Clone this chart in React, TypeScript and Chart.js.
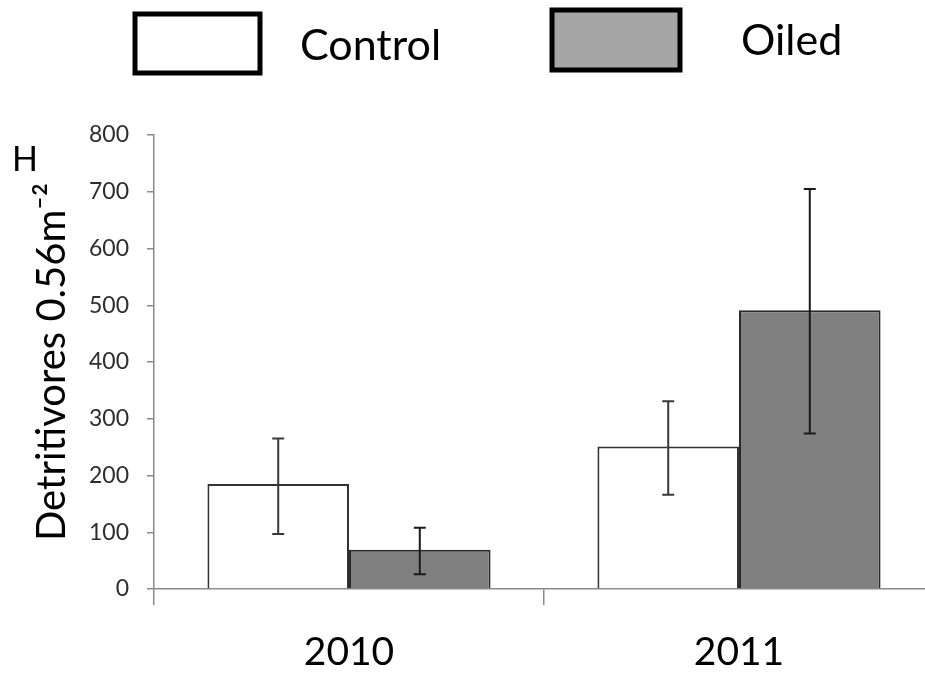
import React, { useEffect, useRef } from "react";
import { Chart, registerables } from "chart.js";

Chart.register(...registerables);

const categories = ["2010", "2011"];
const controlMeans = [185, 251];
const controlUpper = [265, 331];
const controlLower = [97, 166];
const oiledMeans = [69, 491];
const oiledUpper = [108, 705];
const oiledLower = [26, 274];
const yTicks = [0, 100, 200, 300, 400, 500, 600, 700, 800];

const FONT = "Lato, 'Open Sans', sans-serif";

const errorBarPlugin = {
  id: "errorBars",
  afterDatasetsDraw(chart: any) {
    const ctx = chart.ctx;
    const yScale = chart.scales.y;
    const sets = [
      { upper: controlUpper, lower: controlLower, color: "#3a3a3a" },
      { upper: oiledUpper, lower: oiledLower, color: "#1a1a1a" },
    ];
    sets.forEach((s, di) => {
      const meta = chart.getDatasetMeta(di);
      meta.data.forEach((bar: any, i: number) => {
        const x = bar.x;
        const yT = yScale.getPixelForValue(s.upper[i]);
        const yB = yScale.getPixelForValue(s.lower[i]);
        ctx.save();
        ctx.strokeStyle = s.color;
        ctx.lineWidth = 2;
        ctx.beginPath();
        ctx.moveTo(x, yT);
        ctx.lineTo(x, yB);
        ctx.moveTo(x - 6, yT);
        ctx.lineTo(x + 6, yT);
        ctx.moveTo(x - 6, yB);
        ctx.lineTo(x + 6, yB);
        ctx.stroke();
        ctx.restore();
      });
    });
  },
};

const legendPlugin = {
  id: "customLegend",
  afterDraw(chart: any) {
    const ctx = chart.ctx;
    ctx.save();
    ctx.lineWidth = 5;
    ctx.strokeStyle = "#000";
    ctx.fillStyle = "#ffffff";
    ctx.fillRect(135, 14, 125, 59);
    ctx.strokeRect(135, 14, 125, 59);
    ctx.fillStyle = "#a6a6a6";
    ctx.fillRect(552, 10, 128, 60);
    ctx.strokeRect(552, 10, 128, 60);
    ctx.fillStyle = "#000";
    ctx.font = `43px ${FONT}`;
    ctx.textBaseline = "middle";
    ctx.textAlign = "left";
    ctx.fillText("Control", 300, 46);
    ctx.fillText("Oiled", 741, 41);
    ctx.font = `34px ${FONT}`;
    ctx.fillText("H", 12, 160);
    ctx.restore();
  },
};

export default function App() {
  const canvasRef = useRef<HTMLCanvasElement | null>(null);

  useEffect(() => {
    document.body.style.margin = "0";
    document.body.style.overflow = "hidden";
    const canvas = canvasRef.current;
    if (!canvas) return;
    const chart = new Chart(canvas, {
      type: "bar",
      data: {
        labels: categories,
        datasets: [
          {
            label: "Control",
            data: controlMeans,
            backgroundColor: "#ffffff",
            borderColor: "#333333",
            borderWidth: 2,
            categoryPercentage: 0.726,
            barPercentage: 1.0,
          },
          {
            label: "Oiled",
            data: oiledMeans,
            backgroundColor: "#808080",
            borderColor: "#2a2a2a",
            borderWidth: 2,
            categoryPercentage: 0.726,
            barPercentage: 1.0,
          },
        ],
      },
      options: {
        animation: false,
        responsive: false,
        devicePixelRatio: 1,
        layout: { padding: { top: 135, right: 26, left: 0, bottom: 0 } },
        plugins: {
          legend: { display: false },
          tooltip: { enabled: false },
        },
        scales: {
          x: {
            afterFit(scale: any) {
              scale.height = 89;
            },
            grid: {
              display: true,
              drawOnChartArea: false,
              drawTicks: true,
              tickLength: 16,
              offset: true,
              color: "#8a8a8a",
              lineWidth: 1.5,
            },
            border: { display: true, color: "#8a8a8a", width: 1.5 },
            ticks: {
              color: "#000",
              font: { family: FONT, size: 39 },
              padding: 24,
            },
          },
          y: {
            min: 0,
            max: 800,
            afterFit(scale: any) {
              scale.width = 154;
            },
            afterBuildTicks(scale: any) {
              scale.ticks = yTicks.map((v) => ({ value: v }));
            },
            grid: {
              display: true,
              drawOnChartArea: false,
              drawTicks: true,
              tickLength: 7,
              color: "#8a8a8a",
              lineWidth: 1.5,
            },
            border: { display: true, color: "#8a8a8a", width: 1.5 },
            ticks: {
              color: "#2e2e2e",
              font: { family: FONT, size: 23 },
              padding: 18,
            },
            title: {
              display: true,
              text: "Detritivores 0.56m\u207B\u00B2",
              color: "#000",
              font: { family: FONT, size: 40 },
              padding: { top: 28, bottom: 0 },
            },
          },
        },
      },
      plugins: [errorBarPlugin, legendPlugin],
    });
    return () => chart.destroy();
  }, []);

  return (
    <div style={{ position: "relative", width: 925, height: 678, overflow: "hidden", background: "#fff" }}>
      <canvas ref={canvasRef} width={960} height={678} style={{ position: "absolute", left: 0, top: 0 }} />
    </div>
  );
}
